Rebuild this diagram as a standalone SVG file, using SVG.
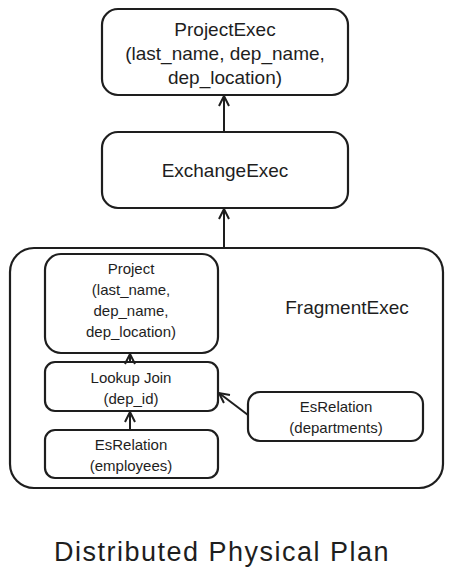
<svg xmlns="http://www.w3.org/2000/svg" width="452" height="575" viewBox="0 0 452 575">
<style>
.box{fill:#fff;stroke:#1e1e1e;stroke-width:2.2}
.t{font-family:"Liberation Sans","DejaVu Sans",sans-serif;fill:#1e1e1e;text-anchor:middle}
.big{font-size:19px}
.sm{font-size:15px}
.c{stroke:#1e1e1e;stroke-width:2;fill:none}
</style>
<defs>
<marker id="ah" viewBox="0 0 12 12" refX="11" refY="6" markerWidth="12" markerHeight="12" markerUnits="userSpaceOnUse" orient="auto">
<path d="M1,1 L11,6 L1,11" fill="none" stroke="#1e1e1e" stroke-width="2"/>
</marker>
</defs>
<rect width="452" height="575" fill="#fff"/>
<g id="fragment">
<rect class="box" x="10" y="248" width="433" height="240" rx="24"/>
<text class="t big" x="347" y="314">FragmentExec</text>
</g>
<g id="projectexec">
<rect class="box" x="102" y="9" width="246" height="86" rx="16"/>
<text class="t big" x="225" y="36">ProjectExec</text>
<text class="t big" x="225" y="60">(last_name, dep_name,</text>
<text class="t big" x="225" y="84">dep_location)</text>
</g>
<g id="exchangeexec">
<rect class="box" x="102" y="132" width="246" height="76" rx="16"/>
<text class="t big" x="225" y="177">ExchangeExec</text>
</g>
<g id="project">
<rect class="box" x="45" y="254" width="173" height="99" rx="16"/>
<text class="t sm" x="131" y="274">Project</text>
<text class="t sm" x="131" y="295">(last_name,</text>
<text class="t sm" x="131" y="316">dep_name,</text>
<text class="t sm" x="131" y="337">dep_location)</text>
</g>
<g id="lookupjoin">
<rect class="box" x="45" y="362" width="173" height="49" rx="10"/>
<text class="t sm" x="131" y="383">Lookup Join</text>
<text class="t sm" x="131" y="404">(dep_id)</text>
</g>
<g id="employees">
<rect class="box" x="45" y="430" width="173" height="48" rx="10"/>
<text class="t sm" x="131" y="450">EsRelation</text>
<text class="t sm" x="131" y="471">(employees)</text>
</g>
<g id="departments">
<rect class="box" x="248" y="392" width="175" height="49" rx="12"/>
<text class="t sm" x="336" y="412">EsRelation</text>
<text class="t sm" x="336" y="433">(departments)</text>
</g>
<g id="connectors">
<line class="c" x1="224" y1="132" x2="224" y2="96" marker-end="url(#ah)"/>
<line class="c" x1="224" y1="248" x2="224" y2="209" marker-end="url(#ah)"/>
<line class="c" x1="130" y1="362" x2="130" y2="354" marker-end="url(#ah)"/>
<line class="c" x1="130" y1="430" x2="130" y2="412" marker-end="url(#ah)"/>
<line class="c" x1="248" y1="415" x2="219" y2="393" marker-end="url(#ah)"/>
</g>
<text class="t" x="222" y="561" font-size="27" letter-spacing="1.5">Distributed Physical Plan</text>
</svg>
